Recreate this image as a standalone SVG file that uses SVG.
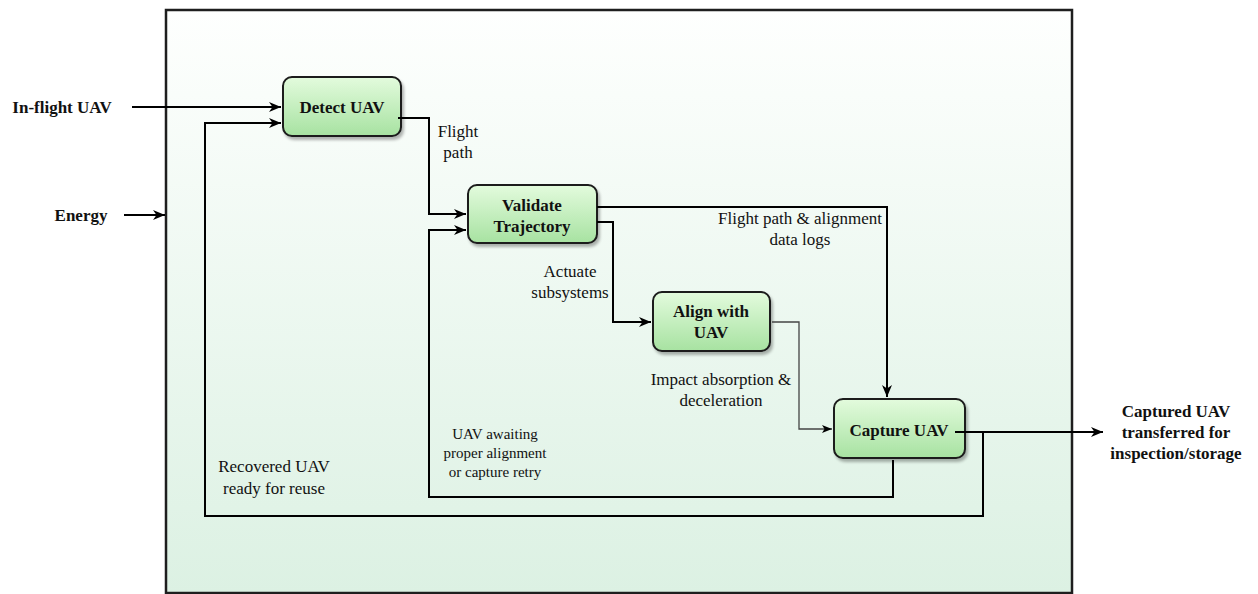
<svg xmlns="http://www.w3.org/2000/svg" width="1258" height="594" viewBox="0 0 1258 594">
  <defs>
    <linearGradient id="bgFill" x1="0" y1="0" x2="0" y2="1">
      <stop offset="0" stop-color="#fefffe"/>
      <stop offset="1" stop-color="#dcf1e3"/>
    </linearGradient>
    <linearGradient id="nodeFill" x1="0" y1="0" x2="0" y2="1">
      <stop offset="0" stop-color="#e3fbdd"/>
      <stop offset="1" stop-color="#a7e2a1"/>
    </linearGradient>
    <filter id="shadow" x="-10%" y="-10%" width="125%" height="130%">
      <feGaussianBlur in="SourceAlpha" stdDeviation="1.5"/>
      <feOffset dx="2" dy="3" result="off"/>
      <feComponentTransfer><feFuncA type="linear" slope="0.3"/></feComponentTransfer>
      <feMerge><feMergeNode/><feMergeNode in="SourceGraphic"/></feMerge>
    </filter>
    <marker id="arrow" markerUnits="userSpaceOnUse" markerWidth="13" markerHeight="11" refX="12" refY="5.5" orient="auto">
      <path d="M0,0.5 L12,5.5 L0,10.5 L3.5,5.5 Z" fill="#000"/>
    </marker>
    <marker id="arrowThin" markerUnits="userSpaceOnUse" markerWidth="11" markerHeight="9" refX="10" refY="4.5" orient="auto">
      <path d="M0,0.5 L10,4.5 L0,8.5 L2.5,4.5 Z" fill="#000"/>
    </marker>
    <style>
      .frame { fill: url(#bgFill); stroke: #1e1e1e; stroke-width: 2.5; }
      .node rect { fill: url(#nodeFill); stroke: #1a1a1a; stroke-width: 2; filter: url(#shadow); }
      .node text, .io { font-family: "Liberation Serif", "Times New Roman", serif; font-weight: bold; font-size: 17px; fill: #111; text-anchor: middle; }
      .lbl { font-family: "Liberation Serif", "Times New Roman", serif; font-size: 17px; fill: #111; text-anchor: middle; }
      .lbl.small { font-size: 15px; }
      .conn { fill: none; stroke: #000; stroke-width: 2; }
      .conn.arrow { marker-end: url(#arrow); }
      .conn.thin { stroke: #444; stroke-width: 1.3; marker-end: url(#arrowThin); }
    </style>
  </defs>

  <!-- system boundary -->
  <rect class="frame" x="166" y="10" width="906" height="583"/>

  <!-- external inputs / outputs -->
  <text class="io" x="62" y="113">In-flight UAV</text>
  <text class="io" x="81" y="221">Energy</text>
  <text class="io" x="1176" y="417">Captured UAV</text>
  <text class="io" x="1176" y="438">transferred for</text>
  <text class="io" x="1176" y="459">inspection/storage</text>

  <!-- connector labels -->
  <g id="labels">
    <text class="lbl" x="458" y="137">Flight</text>
    <text class="lbl" x="458" y="158">path</text>
    <text class="lbl" x="800" y="224">Flight path &amp; alignment</text>
    <text class="lbl" x="800" y="245">data logs</text>
    <text class="lbl" x="570" y="277">Actuate</text>
    <text class="lbl" x="570" y="298">subsystems</text>
    <text class="lbl" x="721" y="385">Impact absorption &amp;</text>
    <text class="lbl" x="721" y="406">deceleration</text>
    <text class="lbl small" x="495" y="439">UAV awaiting</text>
    <text class="lbl small" x="495" y="458">proper alignment</text>
    <text class="lbl small" x="495" y="477">or capture retry</text>
    <text class="lbl" x="274" y="472">Recovered UAV</text>
    <text class="lbl" x="274" y="494">ready for reuse</text>
  </g>

  <!-- process nodes -->
  <g id="detect-uav" class="node">
    <rect x="283" y="77" width="118" height="59" rx="9"/>
    <text x="342" y="113">Detect UAV</text>
  </g>
  <g id="validate-trajectory" class="node">
    <rect x="468" y="185" width="129" height="58" rx="9"/>
    <text x="532" y="211">Validate</text>
    <text x="532" y="232">Trajectory</text>
  </g>
  <g id="align-with-uav" class="node">
    <rect x="653" y="292" width="117" height="59" rx="9"/>
    <text x="711" y="317">Align with</text>
    <text x="711" y="338">UAV</text>
  </g>
  <g id="capture-uav" class="node">
    <rect x="834" y="399" width="131" height="59" rx="9"/>
    <text x="899" y="436">Capture UAV</text>
  </g>

  <!-- connectors, drawn over the node borders where they start -->
  <g id="connectors">
    <path class="conn arrow" d="M132,107 H281"/>
    <path class="conn arrow" d="M124,215 H165"/>
    <path class="conn arrow" d="M398,118 H429 V214 H466"/>
    <path class="conn arrow" d="M597,222 H613 V322 H651"/>
    <path class="conn arrow" d="M597,207 H887 V397"/>
    <path class="conn thin" d="M772,322 H799 V429 H832"/>
    <path class="conn arrow" d="M955,432 H1103"/>
    <path class="conn arrow" d="M893,460 V497 H429 V230 H466"/>
    <path class="conn arrow" d="M983,432 V516 H205 V123 H281"/>
  </g>
</svg>
